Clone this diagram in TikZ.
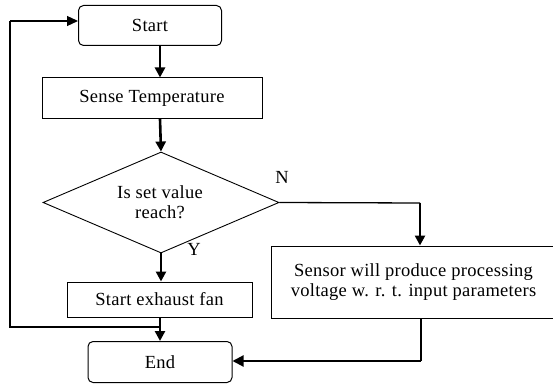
\documentclass[tikz,border=0pt]{standalone}
\usepackage{fontspec}
\setmainfont{Liberation Serif}[LetterSpace=1.5]
\usetikzlibrary{shapes.geometric,arrows.meta}
\begin{document}
\begin{tikzpicture}[x=1pt,y=-1pt,
  every node/.style={font=\fontsize{18.5}{20.5}\selectfont, inner sep=0pt, align=center},
  term/.style={draw, line width=1pt, rounded corners=5pt, minimum width=143pt, minimum height=40pt},
  proc/.style={draw, line width=1pt},
  dec/.style={draw, line width=0.9pt, shape=diamond, minimum width=236pt, minimum height=101pt},
  arr/.style={line width=2.6pt, -{Triangle[length=10pt,width=10pt]}},
  thinline/.style={line width=1.3pt},
  thickline/.style={line width=2pt}]
\useasboundingbox (0,0) rectangle (553,387);
\clip (0,0) rectangle (553,387);
\node[term] (start) at (150,25.5) {Start};
\node[proc, minimum width=220pt, minimum height=41pt] (sense) at (152,98.5) {Sense Temperature};
\node[dec] (dec) at (161,202.5) {};
\node at (160,192) {Is set value};
\node at (160,212) {reach?};
\node[proc, minimum width=185pt, minimum height=35pt] (fan) at (159.5,299.5) {Start exhaust fan};
\node[proc, minimum width=285pt, minimum height=72pt] (sensor) at (413.5,282) {Sensor will produce processing\\voltage w. r. t. input parameters};
\node[term, minimum width=144pt, minimum height=41pt] (end) at (160,362) {End};
\node (N) at (282,177) {N};
\node (Y) at (194,249) {Y};
\coordinate (j) at (160,327);
\coordinate (nc) at (420,203);
\coordinate (rc) at (421,361);
\coordinate (ll) at (10,327);
\coordinate (lu) at (10,21);
\draw[arr] (160,45.5) -- (sense.north -| 160,0);
\draw[arr] (160,119) -- (dec.north);
\draw[arr] (dec.south) -- (fan.north -| dec.south);
\draw[arr] (fan.south -| j) -- (end.north -| j);
\draw[thinline] (j) -- (ll) -- (lu);
\draw[thinline, -{Triangle[length=11pt,width=10pt]}] (lu) -- (lu -| start.west);
\draw[thinline] (dec.east) -- (nc);
\draw[arr] (nc) -- (sensor.north -| nc);
\draw[thickline] (sensor.south -| rc) -- (rc);
\draw[thickline, -{Triangle[length=11pt,width=11pt]}] (rc) -- (end.east |- rc);
\end{tikzpicture}
\end{document}
